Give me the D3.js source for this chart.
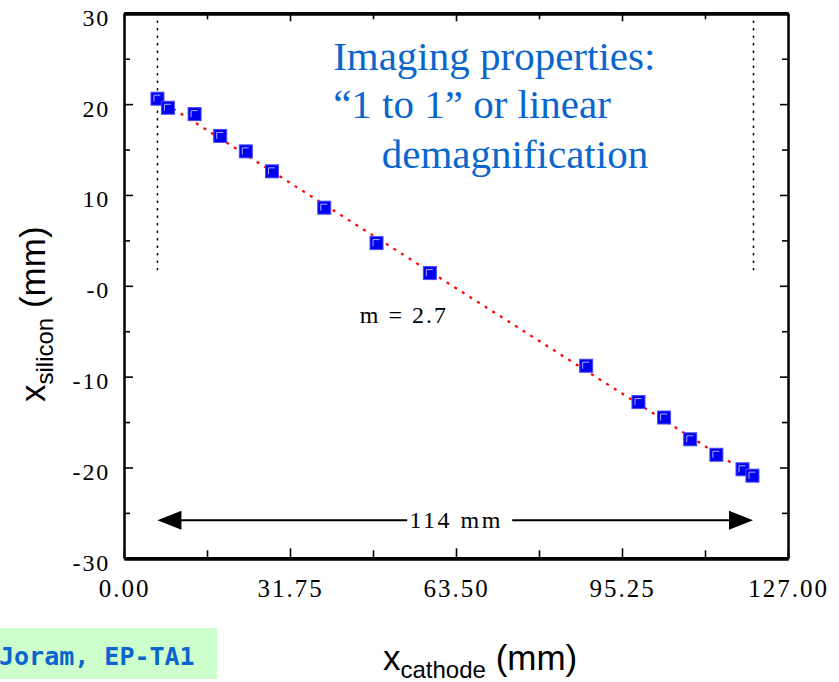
<!DOCTYPE html>
<html>
<head>
<meta charset="utf-8">
<script src="https://cdn.jsdelivr.net/npm/d3@7"></script>
<style>
  body { margin: 0; background: #fff; }
  svg text { font-family: "Liberation Serif", "Times New Roman", serif; }
</style>
</head>
<body>
<div id="chart"></div>
<script>
var cathodeX = [6.4, 8.4, 13.5, 18.4, 23.3, 28.3, 38.3, 48.3, 58.5, 88.4, 98.4, 103.3, 108.3, 113.3, 118.3, 120.2];
var siliconY = [20.6, 19.6, 18.9, 16.5, 14.8, 12.6, 8.6, 4.7, 1.4, -8.8, -12.8, -14.5, -16.9, -18.6, -20.2, -20.9];

// linear fit (m = 2.7), end points
var fitX = [9.4, 117.0];
var fitY = [19.5, -19.8];

// vertical guides marking the ends of the 114 mm span
var guideX = [6.4, 120.4];
var guideY = [29.2, 1.7];

var xTicks = [0, 31.75, 63.5, 95.25, 127];
var xMinor = [15.875, 47.625, 79.375, 111.125];
var yTicks = [-30, -20, -10, 0, 10, 20, 30];
var yMinor = [-25, -15, -5, 5, 15, 25];

var serif = "'Liberation Serif', 'Times New Roman', serif",
    sans = "'Liberation Sans', Arial, Helvetica, sans-serif";

var margin = {top: 13.3, left: 124},
    width = 664,
    height = 545;

var svg = d3.select("#chart").append("svg")
    .attr("width", 839)
    .attr("height", 682);

var g = svg.append("g")
    .attr("transform", "translate(" + margin.left + "," + margin.top + ")");

var x = d3.scaleLinear().domain([0, 127]).range([0, width]),
    y = d3.scaleLinear().domain([-30, 30]).range([height, 0]);

function styleAxis(sel, w) {
  sel.attr("font-family", null);
  sel.select(".domain").attr("stroke", "#000").attr("stroke-width", w);
  sel.selectAll(".tick line").attr("stroke", "#000").attr("stroke-width", 1.6);
}

// minor ticks
g.append("g").call(d3.axisLeft(y).tickValues(yMinor).tickSize(-6).tickSizeOuter(0).tickFormat(""))
  .call(styleAxis, 2);
g.append("g").attr("transform", "translate(" + width + ",0)")
  .call(d3.axisRight(y).tickValues(yMinor).tickSize(-6).tickSizeOuter(0).tickFormat(""))
  .call(styleAxis, 2);
g.append("g").attr("transform", "translate(0," + height + ")")
  .call(d3.axisBottom(x).tickValues(xMinor).tickSize(-8).tickSizeOuter(0).tickFormat(""))
  .call(styleAxis, 3.5);
g.append("g")
  .call(d3.axisTop(x).tickValues(xMinor).tickSize(-6).tickSizeOuter(0).tickFormat(""))
  .call(styleAxis, 3.5);

// major ticks
var yAxis = g.append("g")
  .call(d3.axisLeft(y).tickValues(yTicks).tickSize(-9).tickSizeOuter(0).tickPadding(14)
    .tickFormat(function(d) { return d === 0 ? "-0" : d; }))
  .call(styleAxis, 2);
yAxis.selectAll("text")
  .attr("dy", "0.5em")
  .style("font-family", serif)
  .style("font-size", "24px")
  .style("letter-spacing", "1.8px")
  .attr("fill", "#000");

g.append("g").attr("transform", "translate(" + width + ",0)")
  .call(d3.axisRight(y).tickValues(yTicks).tickSize(-8).tickSizeOuter(0).tickFormat(""))
  .call(styleAxis, 2);

var xAxis = g.append("g").attr("transform", "translate(0," + height + ")")
  .call(d3.axisBottom(x).tickValues(xTicks).tickSize(-10).tickSizeOuter(0).tickPadding(21)
    .tickFormat(d3.format(".2f")))
  .call(styleAxis, 3.5);
xAxis.selectAll("text")
  .style("font-family", serif)
  .style("font-size", "25px")
  .style("letter-spacing", "2px")
  .attr("fill", "#000");

g.append("g")
  .call(d3.axisTop(x).tickValues(xTicks).tickSize(-8).tickSizeOuter(0).tickFormat(""))
  .call(styleAxis, 3.5);

// dotted guide lines
g.selectAll(".guide")
  .data(guideX)
  .enter().append("line")
  .attr("class", "guide")
  .attr("x1", function(d) { return x(d); })
  .attr("x2", function(d) { return x(d); })
  .attr("y1", y(guideY[0]))
  .attr("y2", y(guideY[1]))
  .attr("stroke", "#000")
  .attr("stroke-width", 1.5)
  .attr("stroke-dasharray", "2.5,5");

// red dotted fit line
g.append("line")
  .attr("x1", x(fitX[0])).attr("y1", y(fitY[0]))
  .attr("x2", x(fitX[1])).attr("y2", y(fitY[1]))
  .attr("stroke", "#ff0000")
  .attr("stroke-width", 2.2)
  .attr("stroke-dasharray", "3,6");

// data markers
var pts = g.selectAll(".pt")
  .data(cathodeX)
  .enter().append("g")
  .attr("class", "pt")
  .attr("transform", function(d, i) { return "translate(" + x(d) + "," + y(siliconY[i]) + ")"; });

pts.append("rect")
  .attr("x", -6.5).attr("y", -6.5)
  .attr("width", 13).attr("height", 13)
  .attr("fill", "#0000f0")
  .attr("stroke", "#4848ff")
  .attr("stroke-width", 1);

pts.append("path")
  .attr("d", "M-3.5,3V-3.5H3")
  .attr("fill", "none")
  .attr("stroke", "#a8b0ff")
  .attr("stroke-width", 1);

// 114 mm arrow
var arrowY = y(-25.8),
    ax0 = x(guideX[0]),
    ax1 = x(120.3),
    axMid = (ax0 + ax1) / 2;

g.append("line")
  .attr("x1", ax0 + 20).attr("x2", axMid - 48)
  .attr("y1", arrowY).attr("y2", arrowY)
  .attr("stroke", "#000").attr("stroke-width", 2);
g.append("line")
  .attr("x1", axMid + 57).attr("x2", ax1 - 20)
  .attr("y1", arrowY).attr("y2", arrowY)
  .attr("stroke", "#000").attr("stroke-width", 2);
g.append("path")
  .attr("d", "M" + ax0 + "," + arrowY + "l24,-9.5v19z")
  .attr("fill", "#000");
g.append("path")
  .attr("d", "M" + ax1 + "," + arrowY + "l-24,-9.5v19z")
  .attr("fill", "#000");
g.append("text")
  .attr("x", axMid + 1)
  .attr("y", arrowY + 8)
  .attr("text-anchor", "middle")
  .style("font-size", "24px")
  .style("letter-spacing", "2.5px")
  .text("114 mm");

g.append("text")
  .attr("x", x(45.1))
  .attr("y", y(-4.1))
  .style("font-size", "24px")
  .style("letter-spacing", "2px")
  .text("m = 2.7");

// blue caption
var caption = g.append("g")
  .attr("fill", "#0a66cc")
  .style("font-size", "41px");
caption.append("text").attr("x", x(40)).attr("y", y(23.8)).text("Imaging properties:");
caption.append("text").attr("x", x(40)).attr("y", y(18.45)).text("\u201c1 to 1\u201d or linear");
caption.append("text").attr("x", x(49.3)).attr("y", y(12.95)).text("demagnification");

// axis titles
var xt = svg.append("text")
  .attr("x", 383)
  .attr("y", 670)
  .style("font-family", sans)
  .style("font-size", "35px");
xt.append("tspan").text("x");
xt.append("tspan").attr("dy", 8).style("font-size", "24px").text("cathode");
xt.append("tspan").attr("dy", -8).text(" (mm)");

var yt = svg.append("text")
  .attr("transform", "translate(45,402) rotate(-90)")
  .style("font-family", sans)
  .style("font-size", "35px");
yt.append("tspan").text("x");
yt.append("tspan").attr("dy", 8).style("font-size", "24px").text("silicon");
yt.append("tspan").attr("dy", -8).text(" (mm)");

// author tag
svg.append("rect")
  .attr("x", 0).attr("y", 628)
  .attr("width", 217).attr("height", 51)
  .attr("fill", "#ccffcc");
svg.append("text")
  .attr("x", -1)
  .attr("y", 665)
  .style("font-family", "'DejaVu Sans Mono', monospace")
  .style("font-weight", "bold")
  .style("font-size", "25px")
  .attr("fill", "#0a66cc")
  .text("Joram, EP-TA1");
</script>
</body>
</html>
